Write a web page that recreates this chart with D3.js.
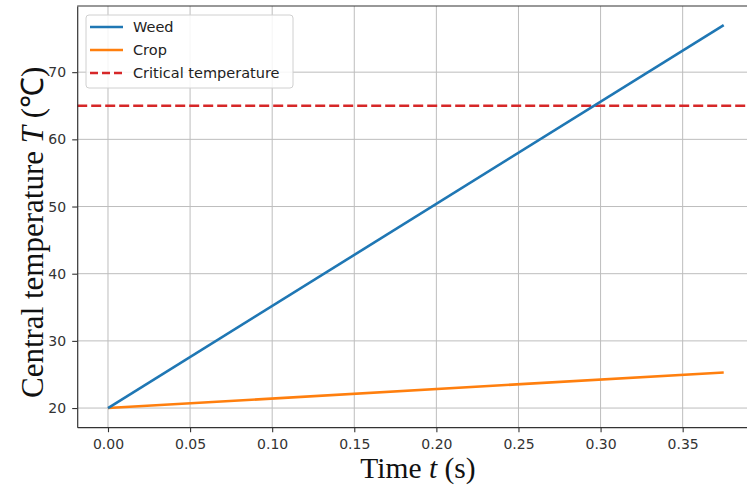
<!DOCTYPE html>
<html lang="en">
<head>
    <meta charset="UTF-8">
    <title>Central temperature vs time</title>
    <script src="https://cdnjs.cloudflare.com/ajax/libs/d3/7.8.5/d3.min.js"></script>
    <style>
        body {
            margin: 0;
            background-color: #fff;
        }
        .tick text {
            font-family: "DejaVu Sans", sans-serif;
            font-size: 14px;
            fill: #333;
        }
        .axis-title {
            font-family: "Liberation Serif", "Times New Roman", serif;
            fill: #111;
        }
        .legend text {
            font-family: "DejaVu Sans", sans-serif;
            font-size: 14.5px;
            fill: #222;
        }
    </style>
</head>
<body>
    <div id="chart"></div>

    <script>
        // values
        const timeS = [0, 0.375];
        const weedT = [20, 77];
        const cropT = [20, 25.3];
        const criticalT = 65;

        const xTicks = [0, 0.05, 0.10, 0.15, 0.20, 0.25, 0.30, 0.35];
        const yTicks = [20, 30, 40, 50, 60, 70];

        const seriesNames = ["Weed", "Crop", "Critical temperature"];
        const seriesColors = ["#1f77b4", "#ff7f0e", "#d62728"];

        const width = 747;
        const height = 488;

        const svg = d3.select("#chart")
            .append("svg")
            .attr("width", width)
            .attr("height", height);

        // matplotlib-like 5% margins around the data
        const x = d3.scaleLinear()
            .domain([-0.01875, 0.39375])
            .range([77.2, 754.5]);

        const y = d3.scaleLinear()
            .domain([17.15, 79.85])
            .range([427.2, 6]);

        const [x0, x1] = x.range();
        const [yb, yt] = y.range();

        // grid
        svg.append("g")
            .selectAll("line.vg")
            .data(xTicks)
            .enter()
            .append("line")
            .attr("x1", d => x(d))
            .attr("x2", d => x(d))
            .attr("y1", yt)
            .attr("y2", yb)
            .attr("stroke", "#bdbdbd")
            .attr("stroke-width", 1);

        svg.append("g")
            .selectAll("line.hg")
            .data(yTicks)
            .enter()
            .append("line")
            .attr("x1", x0)
            .attr("x2", x1)
            .attr("y1", d => y(d))
            .attr("y2", d => y(d))
            .attr("stroke", "#bdbdbd")
            .attr("stroke-width", 1);

        // critical temperature
        svg.append("line")
            .attr("x1", x0)
            .attr("x2", x1)
            .attr("y1", y(criticalT))
            .attr("y2", y(criticalT))
            .attr("stroke", seriesColors[2])
            .attr("stroke-width", 2.6)
            .attr("stroke-dasharray", "10,4");

        const line = d3.line()
            .x(d => x(d[0]))
            .y(d => y(d[1]));

        svg.append("path")
            .attr("d", line(d3.zip(timeS, cropT)))
            .attr("fill", "none")
            .attr("stroke", seriesColors[1])
            .attr("stroke-width", 2.6);

        svg.append("path")
            .attr("d", line(d3.zip(timeS, weedT)))
            .attr("fill", "none")
            .attr("stroke", seriesColors[0])
            .attr("stroke-width", 2.6);

        // axes
        const xAxis = svg.append("g")
            .attr("transform", `translate(0,${yb})`)
            .call(d3.axisBottom(x).tickValues(xTicks).tickFormat(d3.format(".2f"))
                .tickSize(5).tickPadding(7).tickSizeOuter(0));

        const yAxis = svg.append("g")
            .attr("transform", `translate(${x0},0)`)
            .call(d3.axisLeft(y).tickValues(yTicks).tickFormat(d3.format("d"))
                .tickSize(5).tickPadding(6).tickSizeOuter(0));

        [xAxis, yAxis].forEach(a => {
            a.select(".domain").attr("stroke", "#333").attr("stroke-width", 1.2);
            a.selectAll(".tick line").attr("stroke", "#333").attr("stroke-width", 1.1);
        });

        // top spine
        svg.append("line")
            .attr("x1", x0).attr("x2", x1)
            .attr("y1", yt).attr("y2", yt)
            .attr("stroke", "#333")
            .attr("stroke-width", 1.2);

        // axis titles
        const xt = svg.append("text")
            .attr("class", "axis-title")
            .attr("x", 418)
            .attr("y", 478)
            .attr("text-anchor", "middle")
            .attr("font-size", 29.5);
        xt.append("tspan").text("Time ");
        xt.append("tspan").attr("font-style", "italic").text("t");
        xt.append("tspan").text(" (s)");

        const yl = svg.append("text")
            .attr("class", "axis-title")
            .attr("transform", "translate(43,398) rotate(-90)")
            .attr("text-anchor", "start")
            .attr("font-size", 31);
        yl.append("tspan").text("Central temperature ");
        yl.append("tspan").attr("font-style", "italic").text("T");
        yl.append("tspan").text(" (℃)");

        // legend
        const legend = svg.append("g").attr("class", "legend");

        legend.append("rect")
            .attr("x", 86)
            .attr("y", 15)
            .attr("width", 207)
            .attr("height", 73)
            .attr("rx", 3)
            .attr("fill", "#fff")
            .attr("fill-opacity", 0.85)
            .attr("stroke", "#d0d0d0");

        const rows = legend.selectAll("g.row")
            .data(seriesNames)
            .enter()
            .append("g")
            .attr("transform", (d, i) => `translate(0,${27 + i * 23})`);

        rows.append("line")
            .attr("x1", 90)
            .attr("x2", 123)
            .attr("stroke", (d, i) => seriesColors[i])
            .attr("stroke-width", 2.6)
            .attr("stroke-dasharray", (d, i) => i === 2 ? "8,4" : null);

        rows.append("text")
            .attr("x", 133)
            .attr("dy", "0.36em")
            .text(d => d);
    </script>
</body>
</html>
